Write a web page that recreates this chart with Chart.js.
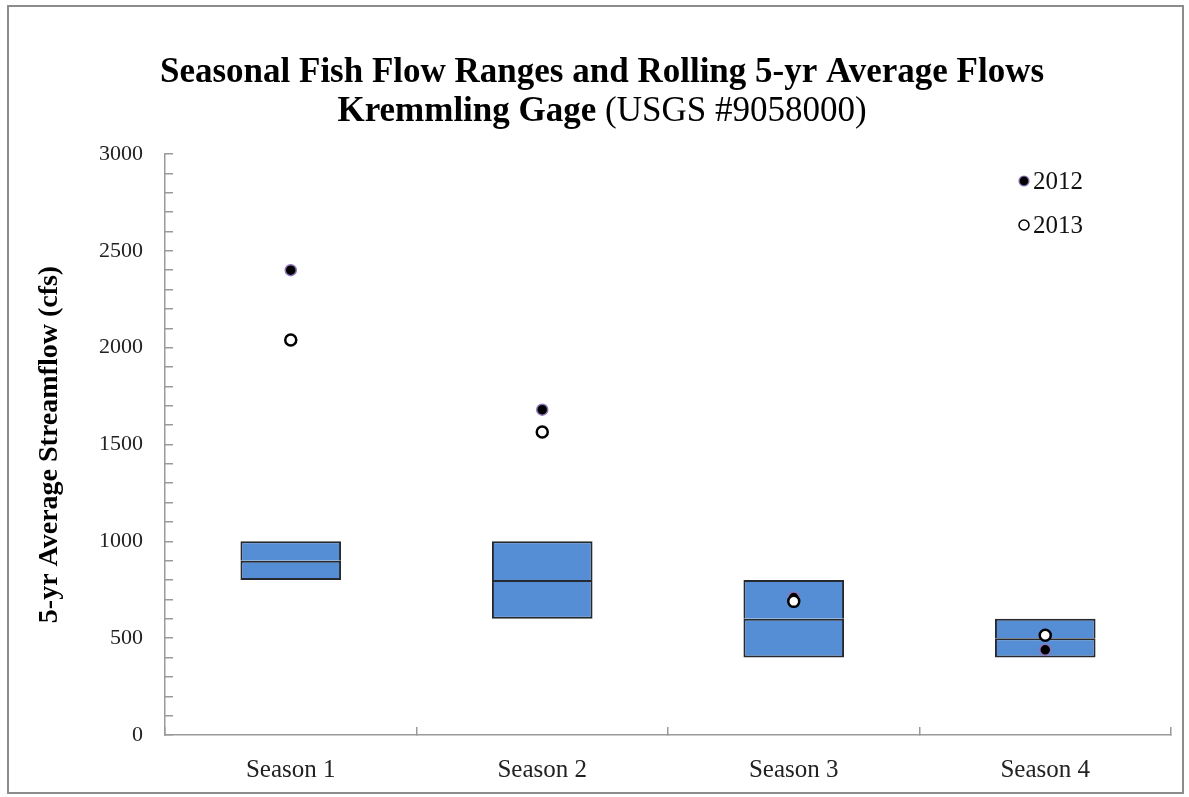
<!DOCTYPE html>
<html>
<head>
<meta charset="utf-8">
<script src="https://cdn.jsdelivr.net/npm/chart.js@4.4.1/dist/chart.umd.min.js"></script>
<style>
  html, body { margin: 0; padding: 0; background: #ffffff; }
  #wrap { position: relative; width: 1189px; height: 797px; }
  #frame { position: absolute; left: 7px; top: 5px; width: 1177px; height: 789px;
           box-sizing: border-box; border: 2px solid #8c8c8c; pointer-events: none; }
  canvas { position: absolute; left: 0; top: 0; }
</style>
</head>
<body>
<div id="wrap">
  <canvas id="chart" width="1189" height="797"></canvas>
  <div id="frame"></div>
</div>
<script>
// Seasonal fish flow target ranges (cfs)
const categories = ['Season 1', 'Season 2', 'Season 3', 'Season 4'];
const rangeLow    = [800, 600, 400, 400];
const rangeMedian = [900, 800, 600, 500];
const rangeHigh   = [1000, 1000, 800, 600];

// Rolling 5-yr average flows (cfs)
const flow2012 = [2400, 1680, 710, 440];
const flow2013 = [2040, 1565, 690, 515];

const yTickLabels = ['0', '500', '1000', '1500', '2000', '2500', '3000'];

const titleLine1 = 'Seasonal Fish Flow Ranges and Rolling 5-yr Average Flows';
const titleLine2Bold = 'Kremmling Gage';
const titleLine2Rest = ' (USGS #9058000)';
const yAxisTitle = '5-yr Average Streamflow (cfs)';

const SERIF = '"Liberation Serif", "Times New Roman", serif';
const BOX_FILL = '#558ed5';
const BOX_EDGE = '#262a30';
const EDGE_W = 2;

// Lower and upper halves of each range box; the lower half's top edge is the median line
const lowerHalf = categories.map((_, i) => [rangeLow[i], rangeMedian[i]]);
const upperHalf = categories.map((_, i) => [rangeMedian[i], rangeHigh[i]]);

// Two-weight title drawn above the plot
const titlePlugin = {
  id: 'twoWeightTitle',
  afterDraw(chart) {
    const ctx = chart.ctx;
    const cx = 602;
    const size = 35;
    ctx.save();
    ctx.fillStyle = '#000';
    ctx.textBaseline = 'alphabetic';
    ctx.textAlign = 'left';
    ctx.font = 'bold ' + size + 'px ' + SERIF;
    const w1 = ctx.measureText(titleLine1).width;
    ctx.fillText(titleLine1, cx - w1 / 2, 82);
    const wb = ctx.measureText(titleLine2Bold).width;
    ctx.font = size + 'px ' + SERIF;
    const wr = ctx.measureText(titleLine2Rest).width;
    const x0 = cx - (wb + wr) / 2;
    ctx.font = 'bold ' + size + 'px ' + SERIF;
    ctx.fillText(titleLine2Bold, x0, 121);
    ctx.font = size + 'px ' + SERIF;
    ctx.fillText(titleLine2Rest, x0 + wb, 121);
    ctx.restore();
  }
};

// Point legend in the upper right of the plot area
const pointLegendPlugin = {
  id: 'pointLegend',
  afterDraw(chart) {
    const ctx = chart.ctx;
    const area = chart.chartArea;
    const x = area.right - 147;
    const rows = [
      { ds: chart.data.datasets[2], y: area.top + 27 },
      { ds: chart.data.datasets[3], y: area.top + 71 }
    ];
    ctx.save();
    rows.forEach(r => {
      ctx.fillStyle = r.ds.pointBackgroundColor;
      ctx.strokeStyle = r.ds.pointBorderColor;
      ctx.lineWidth = r.ds.legendBorderWidth;
      Chart.helpers.drawPoint(ctx, { pointStyle: 'circle', radius: 5, rotation: 0,
        borderWidth: r.ds.legendBorderWidth }, x, r.y);
      ctx.fillStyle = '#111';
      ctx.font = '25px ' + SERIF;
      ctx.textBaseline = 'middle';
      ctx.textAlign = 'left';
      ctx.fillText(r.ds.label, x + 9, r.y + 1);
    });
    ctx.restore();
  }
};

new Chart(document.getElementById('chart'), {
  data: {
    labels: categories,
    datasets: [
      {
        type: 'bar', label: 'Range low', data: lowerHalf,
        backgroundColor: BOX_FILL, borderColor: BOX_EDGE,
        borderWidth: { top: EDGE_W, bottom: EDGE_W, left: EDGE_W, right: EDGE_W },
        borderSkipped: false, barPercentage: 0.4, categoryPercentage: 1.0, order: 3
      },
      {
        type: 'bar', label: 'Range high', data: upperHalf,
        backgroundColor: BOX_FILL, borderColor: BOX_EDGE,
        borderWidth: { top: EDGE_W, bottom: 0, left: EDGE_W, right: EDGE_W },
        borderSkipped: false, barPercentage: 0.4, categoryPercentage: 1.0, order: 3
      },
      {
        type: 'line', label: '2012', data: flow2012, showLine: false,
        pointStyle: 'circle', pointRadius: 5.5, pointBorderWidth: 1.5,
        pointBackgroundColor: '#000000', pointBorderColor: '#8f75b8',
        legendBorderWidth: 1.2, order: 2
      },
      {
        type: 'line', label: '2013', data: flow2013, showLine: false,
        pointStyle: 'circle', pointRadius: 5.5, pointBorderWidth: 2.5,
        pointBackgroundColor: '#ffffff', pointBorderColor: '#000000',
        legendBorderWidth: 1.5, order: 1
      }
    ]
  },
  options: {
    responsive: false,
    devicePixelRatio: 1,
    animation: false,
    layout: { padding: { left: 30, top: 154, right: 18, bottom: 0 } },
    plugins: {
      legend: { display: false },
      title: { display: false },
      tooltip: { enabled: false }
    },
    scales: {
      x: {
        stacked: true,
        offset: true,
        grid: { display: true, drawOnChartArea: false, drawTicks: true, tickLength: -8,
                offset: true, color: '#9a9a9a', lineWidth: 1.5 },
        border: { display: true, color: '#9a9a9a', width: 1.5 },
        ticks: { color: '#222', font: { family: SERIF, size: 25 }, padding: 28, maxRotation: 0 },
        afterFit(s) { s.height = 62; }
      },
      y: {
        min: 0, max: 3000,
        grid: { display: true, drawOnChartArea: false, drawTicks: true, tickLength: -8,
                color: '#9a9a9a', lineWidth: 1.5 },
        border: { display: true, color: '#9a9a9a', width: 1.5 },
        ticks: {
          stepSize: 100, autoSkip: false, color: '#222', padding: 30,
          font: { family: SERIF, size: 22 },
          callback(v) { return v % 500 === 0 ? yTickLabels[v / 500] : ''; }
        },
        title: { display: true, text: yAxisTitle, color: '#000',
                 font: { family: SERIF, size: 28, weight: 'bold' }, padding: { top: 3, bottom: 0 } },
        afterFit(s) { s.width = 135; }
      }
    }
  },
  plugins: [titlePlugin, pointLegendPlugin]
});
</script>
</body>
</html>
